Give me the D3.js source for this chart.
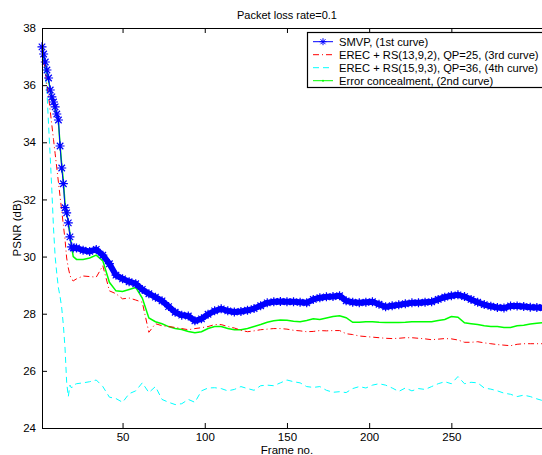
<!DOCTYPE html>
<html>
  <head>
    <script src="https://cdn.jsdelivr.net/npm/d3@7"></script>
    <style>
body {
    margin: 0;
    background: #fff;
}
svg text {
    font-family: "Liberation Sans", Arial, Helvetica, sans-serif;
    font-size: 11.5px;
    fill: #000;
}
    </style>
  </head>
  <body>
    <script>
// frame numbers (every frame at the start, then every 4th)
var frames = [1, 2, 3, 4, 5, 6, 7, 8, 9, 10, 11, 12, 13, 14, 15, 16, 17, 18, 19, 20,
	22, 26, 30, 34, 38, 42, 46, 50, 54, 58, 62, 66, 70, 74, 78, 82, 86, 90, 94, 98,
	102, 106, 110, 114, 118, 122, 126, 130, 134, 138, 142, 146, 150, 154, 158, 162, 166, 170, 174, 178,
	182, 186, 190, 194, 198, 202, 206, 210, 214, 218, 222, 226, 230, 234, 238, 242, 246, 250, 254, 258,
	262, 266, 270, 274, 278, 282, 286, 290, 294, 298, 302, 306];

var smvp = [37.34, 37.09, 36.81, 36.53, 36.25, 35.83, 35.59, 35.41, 35.24, 34.99, 34.78, 33.87, 33.10, 32.55, 31.71, 31.53, 31.18, 30.69, 30.34, 30.30,
	30.30, 30.22, 30.18, 30.25, 30.05, 29.75, 29.35, 29.22, 29.12, 29.05, 28.85, 28.70, 28.58, 28.45, 28.25, 28.05, 27.95, 27.92, 27.75, 27.82,
	27.98, 28.10, 28.17, 28.10, 28.06, 28.08, 28.12, 28.18, 28.28, 28.38, 28.42, 28.43, 28.42, 28.42, 28.40, 28.38, 28.50, 28.56, 28.59, 28.60,
	28.63, 28.45, 28.40, 28.38, 28.40, 28.42, 28.33, 28.24, 28.28, 28.31, 28.35, 28.38, 28.38, 28.40, 28.42, 28.50, 28.58, 28.63, 28.66, 28.60,
	28.50, 28.40, 28.32, 28.26, 28.22, 28.20, 28.27, 28.27, 28.25, 28.23, 28.22, 28.21];

var erec13 = [37.30, 36.90, 36.50, 36.00, 35.60, 35.10, 34.60, 34.10, 33.60, 33.10, 32.60, 32.10, 31.60, 31.10, 30.60, 29.95, 29.60, 29.35, 29.20, 29.15,
	29.22, 29.32, 29.30, 29.28, 29.68, 28.80, 28.70, 28.52, 28.55, 28.48, 28.40, 27.35, 27.65, 27.58, 27.55, 27.52, 27.48, 27.44, 27.48, 27.51,
	27.55, 27.62, 27.62, 27.55, 27.50, 27.42, 27.37, 27.40, 27.44, 27.46, 27.48, 27.48, 27.46, 27.42, 27.40, 27.37, 27.38, 27.41, 27.40, 27.41,
	27.41, 27.30, 27.27, 27.22, 27.20, 27.18, 27.16, 27.14, 27.13, 27.14, 27.16, 27.16, 27.14, 27.12, 27.09, 27.11, 27.13, 27.12, 27.08, 27.00,
	27.00, 27.02, 26.98, 26.95, 26.92, 26.90, 26.88, 26.93, 26.95, 26.95, 26.95, 26.95];

var erec15 = [37.30, 36.90, 36.40, 35.80, 34.60, 33.50, 32.30, 31.00, 30.00, 29.40, 28.90, 28.60, 28.20, 27.60, 26.80, 25.60, 25.10, 25.50, 25.40, 25.50,
	25.55, 25.58, 25.62, 25.68, 25.45, 25.08, 25.03, 24.90, 25.20, 25.30, 25.58, 25.24, 25.45, 25.00, 24.90, 24.82, 24.85, 25.00, 24.90, 25.30,
	25.40, 25.41, 25.38, 25.30, 25.35, 25.45, 25.38, 25.32, 25.48, 25.50, 25.48, 25.58, 25.68, 25.62, 25.58, 25.45, 25.42, 25.45, 25.32, 25.25,
	25.27, 25.24, 25.38, 25.45, 25.40, 25.50, 25.55, 25.50, 25.40, 25.28, 25.40, 25.30, 25.38, 25.35, 25.45, 25.55, 25.62, 25.55, 25.80, 25.55,
	25.60, 25.58, 25.40, 25.36, 25.30, 25.22, 25.18, 25.10, 25.15, 25.10, 25.02, 24.95];

var concealment = [37.34, 37.05, 36.75, 36.45, 36.15, 35.85, 35.55, 35.35, 35.15, 34.95, 34.70, 33.90, 33.20, 32.65, 31.85, 31.55, 31.20, 30.80, 30.35, 30.00,
	29.90, 29.90, 29.95, 30.05, 29.85, 29.10, 28.80, 28.78, 28.85, 28.92, 28.55, 27.85, 27.72, 27.65, 27.55, 27.48, 27.45, 27.38, 27.33, 27.37,
	27.48, 27.55, 27.55, 27.48, 27.44, 27.44, 27.48, 27.55, 27.62, 27.70, 27.75, 27.78, 27.77, 27.74, 27.72, 27.76, 27.82, 27.80, 27.85, 27.90,
	27.93, 27.86, 27.70, 27.70, 27.72, 27.72, 27.70, 27.69, 27.69, 27.69, 27.70, 27.72, 27.72, 27.72, 27.72, 27.76, 27.80, 27.90, 27.88, 27.68,
	27.65, 27.62, 27.58, 27.55, 27.55, 27.52, 27.52, 27.58, 27.60, 27.64, 27.67, 27.69];

var xTicks = [50, 100, 150, 200, 250];
var yTicks = [24, 26, 28, 30, 32, 34, 36, 38];
var legendLabels = ["SMVP, (1st curve)",
	"EREC + RS(13,9,2), QP=25, (3rd curve)",
	"EREC + RS(15,9,3), QP=36, (4th curve)",
	"Error concealment, (2nd curve)"];

var x = d3.scaleLinear().domain([1, 310]).range([42, 550]);
var y = d3.scaleLinear().domain([24, 38]).range([428, 28]);

var svg = d3.select("body").append("svg").attr("width", 542).attr("height", 455);

var series = [
	{values: concealment, color: "#00ff00", dash: null, width: 1.5},
	{values: erec15, color: "#00ffff", dash: "6,4", width: 1},
	{values: erec13, color: "#ff0000", dash: "6,3,1,3", width: 1},
	{values: smvp, color: "#0000ff", dash: null, width: 1}
];

var line = d3.line()
	.x(function (d) { return x(d[0]); })
	.y(function (d) { return y(d[1]); });

var plot = svg.append("g");
series.forEach(function (s) {
	plot.append("path")
		.datum(frames.map(function (f, i) { return [f, s.values[i]]; }))
		.attr("d", line)
		.style("fill", "none")
		.style("stroke", s.color)
		.style("stroke-width", s.width)
		.style("stroke-dasharray", s.dash);
});

// where the SMVP markers pile up into a ribbon
plot.append("path")
	.datum(frames.map(function (f, i) { return [f, smvp[i]]; }).filter(function (d) { return d[0] >= 19; }))
	.attr("d", line)
	.style("fill", "none")
	.style("stroke", "#0000ff")
	.style("stroke-width", 6)
	.style("stroke-linejoin", "round");

// asterisk markers
function star(r) {
	var a = r * 0.72;
	return "M" + (-r) + ",0H" + r + "M0," + (-r) + "V" + r +
		"M" + (-a) + "," + (-a) + "L" + a + "," + a +
		"M" + (-a) + "," + a + "L" + a + "," + (-a);
}
plot.selectAll("path.mk").data(frames).enter().append("path")
	.attr("class", "mk")
	.attr("transform", function (d, i) { return "translate(" + x(d) + "," + y(smvp[i]) + ")"; })
	.attr("d", star(4.5))
	.style("fill", "none")
	.style("stroke", "#0000ff")
	.style("stroke-width", 1.2);

// axes
var axBottom = svg.append("g").attr("transform", "translate(0,428)")
	.call(d3.axisBottom(x).tickValues(xTicks).tickSizeInner(-5).tickSizeOuter(0).tickPadding(5));
var axTop = svg.append("g").attr("transform", "translate(0,28)")
	.call(d3.axisTop(x).tickValues(xTicks).tickSizeInner(-5).tickSizeOuter(0).tickFormat(""));
var axLeft = svg.append("g").attr("transform", "translate(42,0)")
	.call(d3.axisLeft(y).tickValues(yTicks).tickSizeInner(-5).tickSizeOuter(0).tickPadding(6));
[axBottom, axTop, axLeft].forEach(function (g) {
	g.selectAll("path, line").style("stroke", "#000").style("stroke-width", 1);
	g.selectAll("text").attr("fill", "#000").style("font-size", "11.5px");
	g.attr("font-family", null).attr("font-size", null);
});

svg.append("text").attr("x", 287).attr("y", 18.5).attr("text-anchor", "middle").style("font-size", "11px").text("Packet loss rate=0.1");
svg.append("text").attr("x", 287).attr("y", 454).attr("text-anchor", "middle").text("Frame no.");
svg.append("text").attr("transform", "translate(21,228) rotate(-90)").attr("text-anchor", "middle").text("PSNR (dB)");

// legend
var legend = svg.append("g");
legend.append("rect").attr("x", 307.5).attr("y", 32.5).attr("width", 260).attr("height", 55)
	.style("fill", "#fff").style("stroke", "#000").style("stroke-width", 1.2);
var legendStyles = [
	{color: "#0000ff", dash: null},
	{color: "#ff0000", dash: "6,3,1,3"},
	{color: "#00ffff", dash: "6,4"},
	{color: "#00ff00", dash: null}
];
legendLabels.forEach(function (lab, i) {
	var ly = 41.7 + i * 13;
	legend.append("line").attr("x1", 313).attr("x2", 333).attr("y1", ly).attr("y2", ly)
		.style("stroke", legendStyles[i].color).style("stroke-width", 1)
		.style("stroke-dasharray", legendStyles[i].dash);
	legend.append("text").attr("x", 339).attr("y", ly + 4).style("font-size", "11.2px").text(lab);
});
legend.append("path").attr("transform", "translate(323," + 41.7 + ")").attr("d", star(3.5))
	.style("fill", "none").style("stroke", "#0000ff");
legend.append("circle").attr("cx", 323).attr("cy", 41.7 + 39).attr("r", 1).style("fill", "#00ff00");
    </script>
  </body>
</html>
